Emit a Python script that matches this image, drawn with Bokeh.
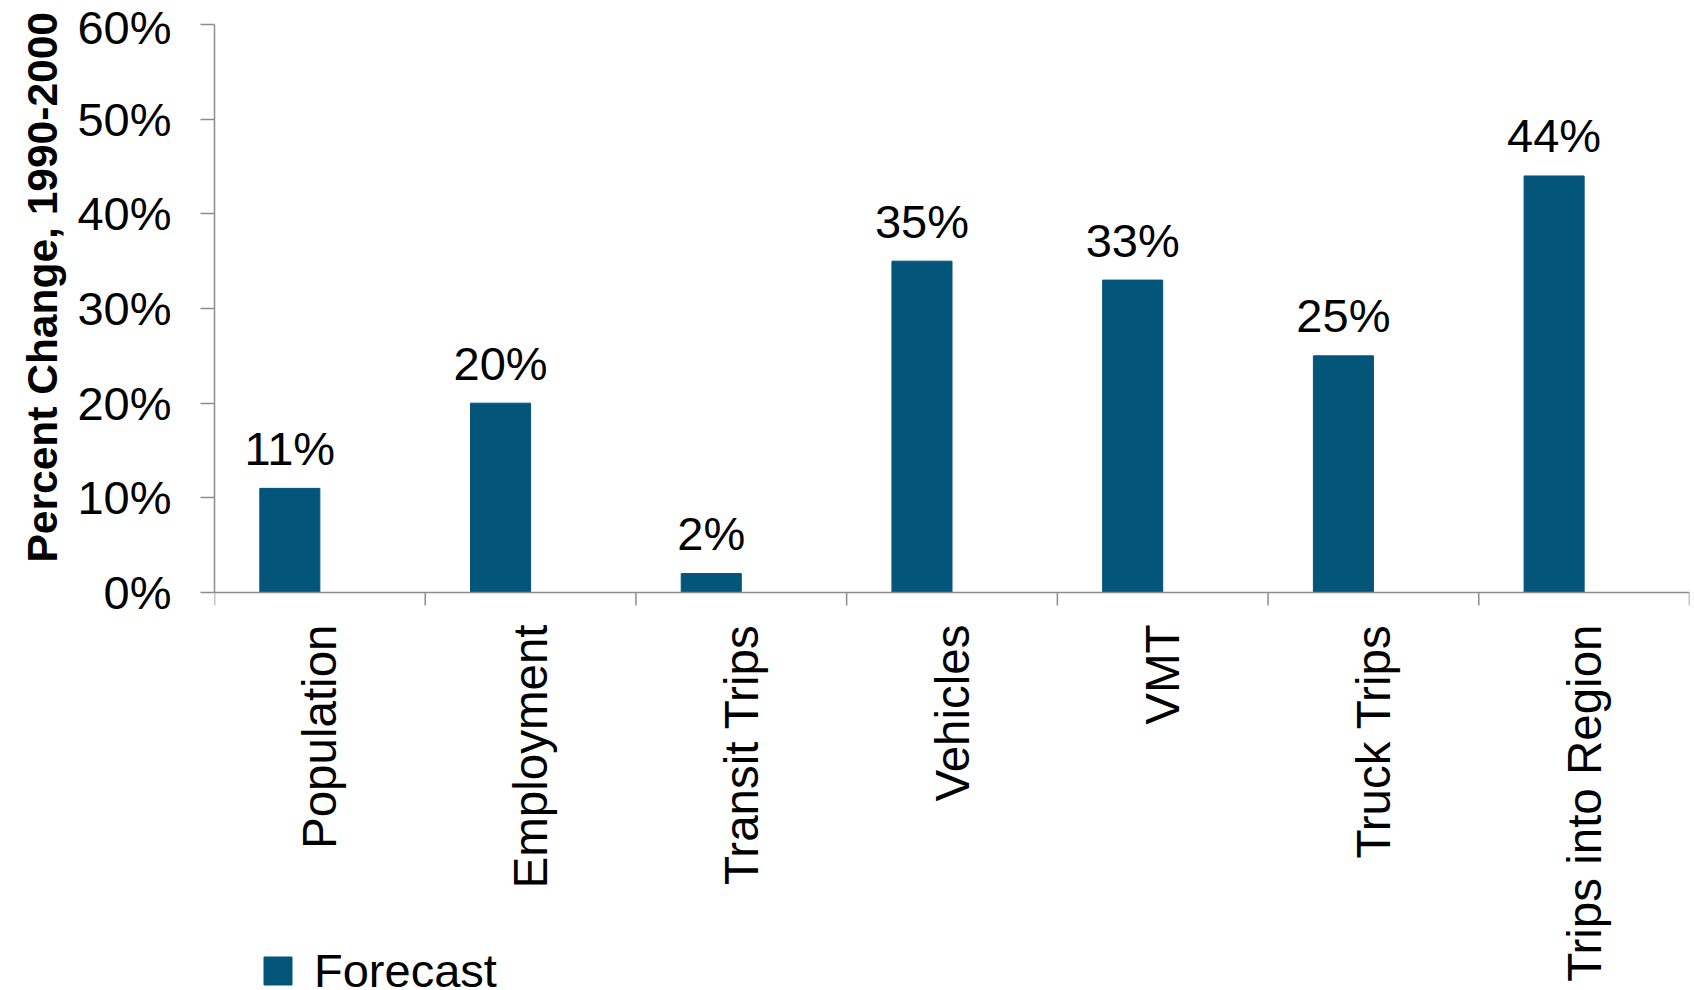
import math
from bokeh.plotting import figure
from bokeh.models import (Range1d, FixedTicker, NumeralTickFormatter, ColumnDataSource,
                          Legend, LegendItem, Span, Title)
from bokeh.transform import dodge
from bokeh.embed import file_html
from bokeh.resources import INLINE
from bokeh.core.properties import value

# ---- data ----
categories = ["Population", "Employment", "Transit Trips", "Vehicles", "VMT",
              "Truck Trips", "Trips into Region"]
pct_change = [0.11, 0.20, 0.02, 0.35, 0.33, 0.25, 0.44]
y_ticks = [0.0, 0.1, 0.2, 0.3, 0.4, 0.5, 0.6]
series_name = "Forecast"
y_title = "Percent Change, 1990-2000"

# ---- style / layout ----
FONT = "Liberation Sans"
BAR_COLOR = "#03557A"
AXIS_COLOR = "#8C8C8C"
BAR_W = 0.285          # bar width as a fraction of a category slot (first of a 2-slot cluster)
W, H = 1690, 990
TOP, ZERO_PX = 24, 592  # pixel rows of the 60% and 0% levels
TITLE_BOTTOM_PX = 562   # pixel row where the (upward-reading) y title starts
# the plotting area extends below the zero line to hold category labels and legend
y_low = -y_ticks[-1] * (H - ZERO_PX) / (ZERO_PX - TOP)

n = len(categories)
centers = [i + 0.5 for i in range(n)]        # category slot centres
bounds = [float(i) for i in range(n + 1)]      # category slot boundaries
labels = [f"{round(v * 100)}%" for v in pct_change]
src = ColumnDataSource(dict(x=centers, cat=categories, val=pct_change, lab=labels))
bsrc = ColumnDataSource(dict(b=bounds, z=[0.0] * len(bounds)))
csrc = ColumnDataSource(dict(x=centers, z=[0.0] * n, cat=categories))

p = figure(width=W, height=H,
           x_range=Range1d(bounds[0], bounds[-1]), y_range=Range1d(y_low, y_ticks[-1]),
           output_backend="svg", toolbar_location=None,
           x_axis_location=None, y_axis_location="left",
           min_border_left=214, min_border_right=1, min_border_top=TOP, min_border_bottom=0)
p.outline_line_color = None
p.xgrid.visible = False
p.ygrid.visible = False
p.background_fill_color = "white"
p.border_fill_color = "white"

# y axis (drawn only over the 0..60% span)
ya = p.yaxis[0]
ya.bounds = (y_ticks[0], y_ticks[-1])
ya.ticker = FixedTicker(ticks=y_ticks)
ya.formatter = NumeralTickFormatter(format="0%")
ya.major_tick_out = 14
ya.major_tick_in = 0
ya.minor_tick_line_color = None
ya.axis_line_color = AXIS_COLOR
ya.axis_line_width = 1.5
ya.major_tick_line_color = AXIS_COLOR
ya.major_tick_line_width = 1.5
ya.major_label_text_font = FONT
ya.major_label_text_font_size = "47px"
ya.major_label_text_color = "black"
ya.major_label_standoff = 29

# y axis title, placed along the 0..60% span
yt = Title(text=y_title, align="left", offset=H - TITLE_BOTTOM_PX, standoff=18,
           text_font=FONT, text_font_style="bold", text_font_size="42.5px",
           text_color="black")
p.add_layout(yt, "left")

# x axis line and category separator ticks
p.add_layout(Span(location=0, dimension="width", line_color=AXIS_COLOR, line_width=1.5))
p.ray(x="b", y="z", source=bsrc, length=13, length_units="screen", angle=-math.pi / 2,
      line_color=AXIS_COLOR, line_width=1.5)

# category labels (rotated, reading upward, hanging below the axis)
p.text(x="x", y="z", text="cat", source=csrc, angle=math.pi / 2,
       text_align="right", text_baseline="middle", y_offset=32,
       text_font=value(FONT), text_font_size="47.5px", text_color="black")

# bars
bx = dodge("x", -BAR_W / 2, range=p.x_range)
r = p.vbar(x=bx, top="val", bottom=0, width=BAR_W, source=src,
           fill_color=BAR_COLOR, line_color=BAR_COLOR)

# value labels
p.text(x=bx, y="val", text="lab", source=src, text_align="center",
       text_baseline="alphabetic", y_offset=-40,
       text_font=value(FONT), text_font_size="47px", text_color="black")

legend = Legend(items=[LegendItem(label=series_name, renderers=[r])],
                location=(46, -8), orientation="horizontal",
                glyph_width=35, glyph_height=35, label_standoff=19,
                label_text_font=FONT, label_text_font_size="47px",
                label_text_color="black", padding=0, margin=0, spacing=0,
                border_line_color=None, background_fill_alpha=0)
p.add_layout(legend)

open("out.html", "w").write(file_html(p, INLINE))
